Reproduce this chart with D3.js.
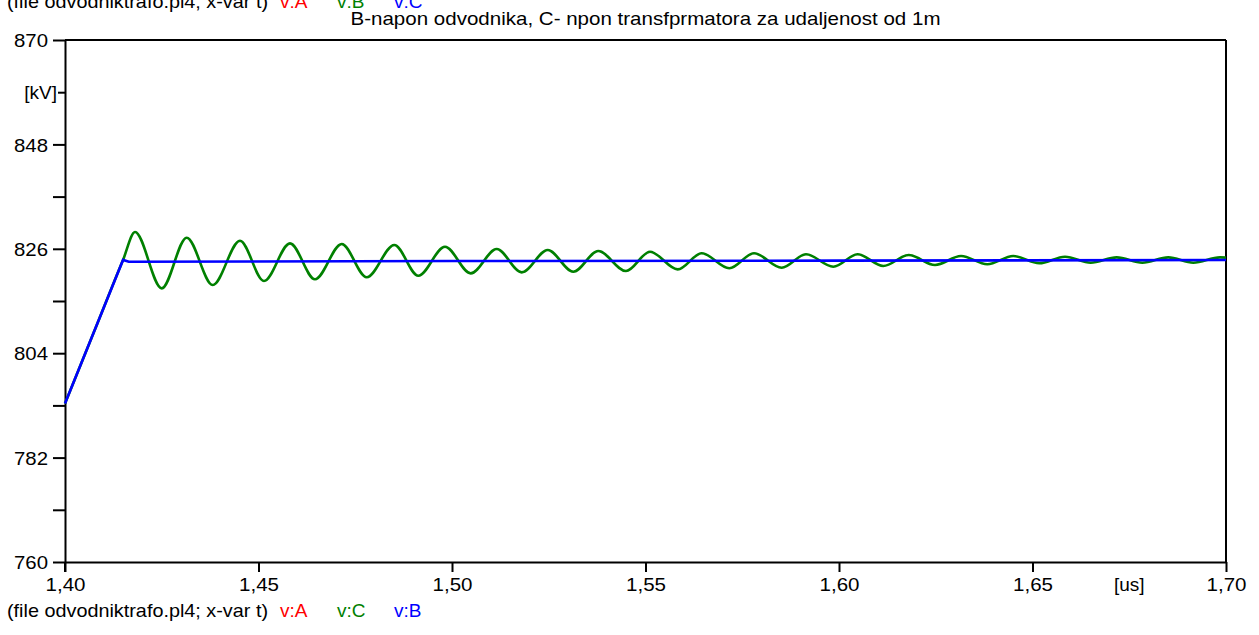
<!DOCTYPE html>
<html><head><meta charset="utf-8">
<script src="https://cdn.jsdelivr.net/npm/d3@7"></script>
<style>
body{margin:0;background:#fff;overflow:hidden}
text{font-family:"Liberation Sans",Arial,sans-serif;fill:#000}
</style>
</head><body>
<svg id="chart" width="1259" height="635"></svg>
<script>
// ---------- data ----------
const titleText = "B-napon odvodnika, C- npon transfprmatora za udaljenost od 1m";
const filePrefix = "(file odvodniktrafo.pl4; x-var t)";
const topLegendNames = ["v:A", "v:B", "v:C"];
const topLegendColors = ["#ff0000", "#008000", "#0000ff"];
const bottomLegendNames = ["v:A", "v:C", "v:B"];
const bottomLegendColors = ["#ff0000", "#008000", "#0000ff"];

const xTicks = [1.40, 1.45, 1.50, 1.55, 1.60, 1.65, 1.70];
const xUnit = "[us]";
const xUnitPos = 1.675;
const yTicksMajor = [760, 782, 804, 826, 848, 870];
const yTicksMinor = [771, 793, 815, 837, 859];
const yUnit = "[kV]";
const yUnitPos = 859;

// v:B (blue) - arrester voltage
const tBlue = [1.400, 1.4150, 1.4165, 1.50, 1.60, 1.70];
const vBlue = [793.4, 823.65, 823.28, 823.42, 823.50, 823.64];

// v:C (green) - transformer voltage
const tGreen = [1.400, 1.4075, 1.4150, 1.41809, 1.42499, 1.43145, 1.43817, 1.44522, 1.45142, 1.45814,
  1.46460, 1.47150, 1.47796, 1.48509, 1.49129, 1.49819, 1.50483, 1.51155, 1.51801, 1.52473,
  1.53134, 1.53780, 1.54496, 1.55116, 1.55832, 1.56452, 1.57166, 1.57804, 1.58519, 1.59147,
  1.59853, 1.60483, 1.61145, 1.61804, 1.62481, 1.63153, 1.63832, 1.64504, 1.65176, 1.65840,
  1.66504, 1.67176, 1.67838, 1.68509, 1.69155, 1.69845, 1.700];
const vGreen = [793.4, 808.5, 823.65, 829.54, 817.67, 828.34, 818.37, 827.70, 819.21, 827.15,
  819.57, 827.00, 819.99, 826.80, 820.33, 826.44, 820.83, 825.95, 821.04, 825.74,
  821.17, 825.53, 821.32, 825.38, 821.67, 825.05, 821.89, 825.05, 822.01, 824.84,
  822.22, 824.84, 822.37, 824.69, 822.58, 824.48, 822.73, 824.48, 822.94, 824.33,
  823.07, 824.20, 823.07, 824.20, 823.07, 824.20, 824.15];

// ---------- layout ----------
const svg = d3.select("#chart");
const L = 65, R = 1226, T = 40, B = 562;
const x = d3.scaleLinear().domain([1.40, 1.70]).range([L, R]);
const y = d3.scaleLinear().domain([760, 870]).range([B, T]);
const comma = d3.formatLocale({decimal: ",", thousands: ".", grouping: [3], currency: ["", ""]});
const fmtX = comma.format(".2f");
const FS = 19;

// frame
svg.append("line").attr("x1", L).attr("x2", R).attr("y1", T).attr("y2", T).attr("stroke", "#000").attr("stroke-width", 2);
svg.append("line").attr("x1", R).attr("x2", R).attr("y1", T).attr("y2", B).attr("stroke", "#000").attr("stroke-width", 2);

// x axis
const gx = svg.append("g").attr("transform", `translate(0,${B})`)
  .call(d3.axisBottom(x).tickValues(xTicks).tickSize(10).tickSizeOuter(0).tickPadding(10).tickFormat(fmtX));
gx.select(".domain").attr("stroke-width", 2);
gx.selectAll(".tick line").attr("stroke-width", 2);
gx.selectAll(".tick text").attr("font-size", FS).attr("font-family", "Liberation Sans, Arial, sans-serif")
  .attr("y", 29).attr("dy", 0).attr("textLength", 40).attr("lengthAdjust", "spacingAndGlyphs");
gx.append("text").attr("x", x(xUnitPos)).attr("y", 29).attr("text-anchor", "middle")
  .attr("font-size", FS).attr("fill", "#000").text(xUnit);

// y axis
const yAll = yTicksMajor.concat(yTicksMinor).sort((a, b) => a - b);
const gy = svg.append("g").attr("transform", `translate(${L},0)`)
  .call(d3.axisLeft(y).tickValues(yAll).tickSize(12).tickSizeOuter(0).tickPadding(5)
    .tickFormat(d => yTicksMajor.includes(d) ? String(d) : (d === yUnitPos ? yUnit : "")));
gy.select(".domain").attr("stroke-width", 2);
gy.selectAll(".tick line").attr("stroke-width", 2);
gy.selectAll(".tick text").attr("font-size", FS).attr("font-family", "Liberation Sans, Arial, sans-serif")
  .attr("dy", "0.35em");
gy.selectAll(".tick").filter(d => yTicksMajor.includes(d)).select("text")
  .attr("textLength", 34).attr("lengthAdjust", "spacingAndGlyphs");
gy.selectAll(".tick").filter(d => d === yUnitPos).select("line").attr("x2", -7);
gy.selectAll(".tick").filter(d => d === yUnitPos).select("text").attr("x", -8);
// extend y axis line below plot like the reference
gy.append("line").attr("x1", 0).attr("x2", 0).attr("y1", B).attr("y2", B + 10).attr("stroke", "#000").attr("stroke-width", 2);

// lines
const lineGen = d3.line().x(d => x(d[0])).y(d => y(d[1]));
svg.append("path").datum(tGreen.map((t, i) => [t, vGreen[i]]))
  .attr("fill", "none").attr("stroke", "#008000").attr("stroke-width", 2.6)
  .attr("d", lineGen.curve(d3.curveMonotoneX));
svg.append("path").datum(tBlue.map((t, i) => [t, vBlue[i]]))
  .attr("fill", "none").attr("stroke", "#0000ff").attr("stroke-width", 2.6)
  .attr("d", d3.line().x(d => x(d[0])).y(d => y(d[1])));

// title
svg.append("text").attr("x", (L + R) / 2).attr("y", 25).attr("text-anchor", "middle")
  .attr("font-size", FS).attr("textLength", 590).attr("lengthAdjust", "spacingAndGlyphs").text(titleText);

// legends
const legendX = [280, 337, 394];
function legend(yPos, names, colors) {
  const g = svg.append("g");
  g.append("text").attr("x", 7).attr("y", yPos).attr("font-size", FS)
    .attr("textLength", 261).attr("lengthAdjust", "spacingAndGlyphs").text(filePrefix);
  g.selectAll("text.lg").data(names).enter().append("text").attr("class", "lg")
    .attr("x", (d, i) => legendX[i]).attr("y", yPos).attr("font-size", FS)
    .style("fill", (d, i) => colors[i]).text(d => d);
}
legend(8, topLegendNames, topLegendColors);
legend(617, bottomLegendNames, bottomLegendColors);
</script>
</body></html>
